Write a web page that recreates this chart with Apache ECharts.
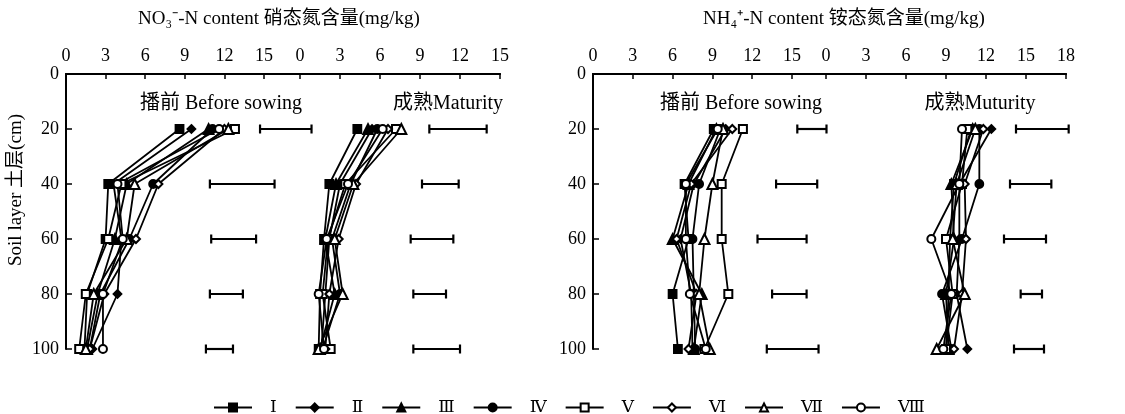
<!DOCTYPE html>
<html><head><meta charset="utf-8">
<script src="https://cdn.jsdelivr.net/npm/echarts@6/dist/echarts.min.js"></script>
<style>html,body{margin:0;padding:0;background:#fff}#c{width:1125px;height:414px}</style>
</head><body><div id="c"></div>
<script>
// ---------- data ----------
const depths = [20, 40, 60, 80, 100];
const treatments = ['Ⅰ', 'Ⅱ', 'Ⅲ', 'Ⅳ', 'Ⅴ', 'Ⅵ', 'Ⅶ', 'Ⅷ'];
const symbols = ['rect', 'diamond', 'triangle', 'circle', 'emptyRect', 'emptyDiamond', 'emptyTriangle', 'emptyCircle'];
const xTicksNO3 = [0, 3, 6, 9, 12, 15];
const xTicksNH4 = [0, 3, 6, 9, 12, 15, 18];
const yTicks = [0, 20, 40, 60, 80, 100];

// NO3--N, before sowing (rows: treatments I..VIII, cols: depths)
const no3Before = [
  [8.6, 3.2, 3.0, 1.6, 1.4],
  [9.5, 3.6, 4.2, 3.9, 2.0],
  [10.8, 4.6, 3.7, 2.4, 1.6],
  [11.1, 6.6, 4.8, 2.6, 1.8],
  [12.8, 4.2, 3.2, 1.5, 1.0],
  [12.0, 7.0, 5.3, 2.9, 1.8],
  [12.3, 5.2, 4.6, 2.1, 1.5],
  [11.6, 3.9, 4.3, 2.8, 2.8]
];
// NO3--N, maturity
const no3Maturity = [
  [4.3, 2.2, 1.8, 1.5, 1.4],
  [5.4, 3.0, 2.2, 1.9, 1.6],
  [5.1, 2.7, 1.9, 2.6, 1.5],
  [5.8, 3.8, 2.4, 3.0, 1.7],
  [7.2, 3.4, 2.1, 1.7, 2.3],
  [6.6, 4.2, 2.9, 2.2, 1.9],
  [7.6, 4.0, 2.6, 3.2, 1.4],
  [6.2, 3.6, 2.0, 1.4, 1.8]
];
// NH4+-N, before sowing
const nh4Before = [
  [9.1, 6.9, 7.2, 6.0, 6.4],
  [10.0, 7.6, 6.6, 7.4, 7.5],
  [9.3, 7.2, 6.0, 8.2, 7.6],
  [9.6, 8.0, 7.5, 7.6, 7.7],
  [11.3, 9.7, 9.7, 10.2, 8.4],
  [10.5, 7.4, 6.3, 7.8, 7.2],
  [9.8, 9.0, 8.4, 8.0, 8.8],
  [9.4, 7.0, 7.0, 7.3, 8.5]
];
// NH4+-N, maturity
const nh4Maturity = [
  [10.9, 9.6, 9.3, 9.2, 9.0],
  [12.4, 10.0, 10.0, 9.8, 10.6],
  [11.0, 9.4, 9.6, 9.0, 9.2],
  [11.5, 11.5, 10.2, 8.7, 9.4],
  [10.6, 10.2, 9.0, 9.5, 9.0],
  [11.8, 10.4, 10.5, 10.2, 9.6],
  [11.2, 9.8, 9.5, 10.4, 8.3],
  [10.2, 10.0, 7.9, 9.4, 8.8]
];
// error bars [left end, right end] per depth
const no3BeforeErr = [[14.7, 18.6], [10.9, 15.8], [11.0, 14.4], [10.9, 13.4], [10.6, 12.65]];
const no3MaturityErr = [[9.7, 14.0], [9.15, 11.9], [8.3, 11.5], [8.5, 10.95], [8.5, 12.0]];
const nh4BeforeErr = [[15.4, 17.6], [13.8, 16.9], [12.4, 16.1], [13.5, 16.1], [13.1, 17.0]];
const nh4MaturityErr = [[14.25, 18.2], [13.8, 16.9], [13.35, 16.5], [14.6, 16.2], [14.1, 16.35]];

// ---------- chart ----------
const SERIF = '"Liberation Serif", "Times New Roman", "Noto Sans CJK SC", serif';
const chart = echarts.init(document.getElementById('c'), null, { renderer: 'canvas' });

const TOP = 74, HEIGHT = 275;
const grids = [
  { left: 66, top: TOP, width: 198, height: HEIGHT },   // 0 NO3 before
  { left: 300, top: TOP, width: 200, height: HEIGHT },  // 1 NO3 maturity
  { left: 66, top: TOP, width: 434, height: HEIGHT },   // 2 NO3 top line
  { left: 593, top: TOP, width: 199, height: HEIGHT },  // 3 NH4 before
  { left: 826, top: TOP, width: 240, height: HEIGHT },  // 4 NH4 maturity
  { left: 593, top: TOP, width: 473, height: HEIGHT }   // 5 NH4 top line
];

const lineStyle = { color: '#000', width: 2 };
function xAx(gi, ticks) {
  return {
    gridIndex: gi, type: 'value', position: 'top',
    min: ticks[0], max: ticks[ticks.length - 1], interval: 3,
    axisLine: { show: true, lineStyle },
    axisTick: { show: true, inside: true, length: 5, lineStyle: { color: '#000', width: 1.5 } },
    axisLabel: { show: true, color: '#000', fontFamily: SERIF, fontSize: 18, margin: 9 },
    splitLine: { show: false }
  };
}
function xLine(gi) {
  return {
    gridIndex: gi, type: 'value', position: 'top', min: 0, max: 1,
    axisLine: { show: true, lineStyle }, axisTick: { show: false },
    axisLabel: { show: false }, splitLine: { show: false }
  };
}
function yAx(gi, show) {
  return {
    gridIndex: gi, type: 'value', inverse: true,
    min: yTicks[0], max: yTicks[yTicks.length - 1], interval: 20, show: show,
    axisLine: { show: true, lineStyle },
    axisTick: { show: true, inside: true, length: 6, lineStyle: { color: '#000', width: 1.5 } },
    axisLabel: { show: true, color: '#000', fontFamily: SERIF, fontSize: 18, margin: 7 },
    splitLine: { show: false }
  };
}

const xAxis = [xAx(0, xTicksNO3), xAx(1, xTicksNO3), xLine(2), xAx(3, xTicksNH4.slice(0, 6)), xAx(4, xTicksNH4), xLine(5)];
const yAxis = [yAx(0, true), yAx(1, false), yAx(2, false), yAx(3, true), yAx(4, false), yAx(5, false)];

const series = [];
function addPanel(data, axisIdx) {
  data.forEach((row, i) => {
    series.push({
      name: treatments[i], type: 'line', xAxisIndex: axisIdx, yAxisIndex: axisIdx,
      data: row.map((v, k) => [v, depths[k]]),
      symbol: symbols[i], symbolSize: i === 2 || i === 6 ? 10 : 8,
      lineStyle: { color: '#000', width: 1.8 },
      itemStyle: { color: '#000', borderColor: '#000', borderWidth: 1.8 },
      emphasis: { disabled: true }, animation: false, z: 3
    });
  });
}
function addErr(err, axisIdx) {
  series.push({
    type: 'custom', xAxisIndex: axisIdx, yAxisIndex: axisIdx, clip: false, silent: true, animation: false,
    data: err.map((e, k) => [e[0], e[1], depths[k]]),
    encode: { x: [0, 1], y: 2 },
    renderItem: (params, api) => {
      const a = api.coord([api.value(0), api.value(2)]);
      const b = api.coord([api.value(1), api.value(2)]);
      const h = 4.5;
      const st = { stroke: '#000', lineWidth: 2.2 };
      return { type: 'group', children: [
        { type: 'line', shape: { x1: a[0], y1: a[1], x2: b[0], y2: b[1] }, style: st },
        { type: 'line', shape: { x1: a[0], y1: a[1] - h, x2: a[0], y2: a[1] + h }, style: st },
        { type: 'line', shape: { x1: b[0], y1: b[1] - h, x2: b[0], y2: b[1] + h }, style: st }
      ] };
    }
  });
}
addPanel(no3Before, 0); addErr(no3BeforeErr, 0);
addPanel(no3Maturity, 1); addErr(no3MaturityErr, 1);
addPanel(nh4Before, 3); addErr(nh4BeforeErr, 3);
addPanel(nh4Maturity, 4); addErr(nh4MaturityErr, 4);

function txt(x, y, s, size, rot) {
  return { type: 'text', x: x, y: y, rotation: rot || 0,
    style: { text: s, fill: '#000', font: (size || 16) + 'px ' + SERIF, textAlign: 'center', textVerticalAlign: 'middle' } };
}

chart.setOption({
  animation: false,
  backgroundColor: '#fff',
  grid: grids,
  xAxis: xAxis,
  yAxis: yAxis,
  series: series,
  legend: {
    data: treatments, top: 394, left: 208,
    itemWidth: 38, itemHeight: 10, itemGap: 18,
    textStyle: { color: '#000', fontFamily: '"DejaVu Serif", "Noto Sans CJK SC", serif', fontSize: 17, padding: [0, 0, 0, 13] },
    selectedMode: false
  },
  graphic: [
    txt(279, 19, 'NO₃⁻-N content 硝态氮含量(mg/kg)', 19),
    txt(844, 19, 'NH₄⁺-N content 铵态氮含量(mg/kg)', 19),
    txt(221, 104, '播前 Before sowing', 20),
    txt(448, 104, '成熟Maturity', 20),
    txt(741, 104, '播前 Before sowing', 20),
    txt(980, 104, '成熟Muturity', 20),
    txt(16, 190, 'Soil layer 土层(cm)', 19, Math.PI / 2)
  ]
});
</script></body></html>
